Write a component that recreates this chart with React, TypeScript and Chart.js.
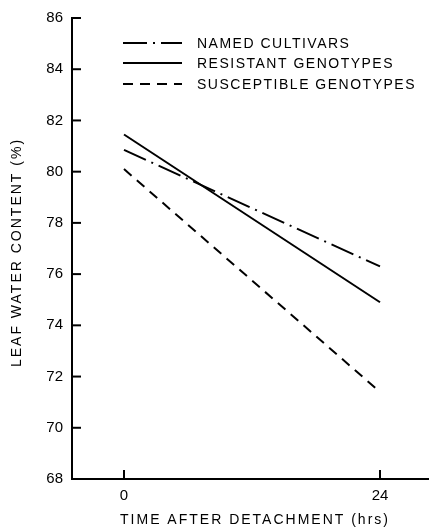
import { useEffect, useRef } from 'react';
import { Chart, registerables } from 'chart.js';

Chart.register(...registerables);

const hours = [0, 24];
const namedCultivars = [80.85, 76.3];
const resistantGenotypes = [81.45, 74.9];
const susceptibleGenotypes = [80.1, 71.4];
const seriesLabels = ['NAMED CULTIVARS', 'RESISTANT GENOTYPES', 'SUSCEPTIBLE GENOTYPES'];
const seriesDashes = [[24, 6, 2, 6], [], [10, 7]];
const xTickValues = [0, 24];
const yTickValues = [68, 70, 72, 74, 76, 78, 80, 82, 84, 86];
const xTitle = 'TIME AFTER DETACHMENT (hrs)';
const yTitle = 'LEAF WATER CONTENT (%)';

const LABEL_FONT = '14px "Liberation Sans", Arial, sans-serif';

const decorPlugin = {
  id: 'decor',
  afterDraw(chart: any) {
    const ctx = chart.ctx as CanvasRenderingContext2D;
    const area = chart.chartArea;
    const xs = chart.scales.x;
    const ys = chart.scales.y;
    ctx.save();
    ctx.strokeStyle = '#000';
    ctx.fillStyle = '#000';
    ctx.lineWidth = 2;
    ctx.setLineDash([]);
    // inward tick marks
    ys.ticks.forEach((t: any) => {
      const y = ys.getPixelForValue(t.value);
      ctx.beginPath();
      ctx.moveTo(area.left, y);
      ctx.lineTo(area.left + 9, y);
      ctx.stroke();
    });
    xs.ticks.forEach((t: any) => {
      const x = xs.getPixelForValue(t.value);
      ctx.beginPath();
      ctx.moveTo(x, area.bottom);
      ctx.lineTo(x, area.bottom - 9);
      ctx.stroke();
    });
    // titles
    (ctx as any).letterSpacing = '2px';
    ctx.font = LABEL_FONT;
    ctx.textAlign = 'center';
    ctx.textBaseline = 'middle';
    ctx.fillText(xTitle, (area.left + area.right) / 2 + 5, 520);
    ctx.save();
    ctx.translate(17, (area.top + area.bottom) / 2 + 4);
    ctx.rotate(-Math.PI / 2);
    ctx.fillText(yTitle, 0, 0);
    ctx.restore();
    // legend
    (ctx as any).letterSpacing = '1.5px';
    const rowsY = [43, 63, 84];
    chart.data.datasets.forEach((ds: any, i: number) => {
      const y = rowsY[i];
      ctx.beginPath();
      ctx.setLineDash(ds.borderDash || []);
      ctx.lineWidth = 2;
      ctx.moveTo(area.left + 51, y);
      ctx.lineTo(area.left + 110, y);
      ctx.stroke();
      ctx.setLineDash([]);
      ctx.textAlign = 'left';
      ctx.fillText(ds.label, area.left + 125, y + 1);
    });
    ctx.restore();
  },
};

export default function App() {
  const ref = useRef<HTMLCanvasElement>(null);
  useEffect(() => {
    document.body.style.margin = '0';
    const canvas = ref.current!;
    const mk = (vals: number[]) => hours.map((h, i) => ({ x: h, y: vals[i] }));
    const series = [namedCultivars, resistantGenotypes, susceptibleGenotypes];
    const chart = new Chart(canvas, {
      type: 'scatter',
      data: {
        datasets: series.map((vals, i) => ({
          label: seriesLabels[i],
          data: mk(vals),
          showLine: true,
          borderColor: '#000',
          backgroundColor: '#000',
          borderWidth: 2,
          borderDash: seriesDashes[i],
          pointRadius: 0,
          pointHoverRadius: 0,
        })),
      },
      options: {
        responsive: false,
        animation: false,
        devicePixelRatio: 1,
        layout: { padding: { top: 15, right: 1, left: 0, bottom: 0 } },
        plugins: { legend: { display: false }, tooltip: { enabled: false } },
        scales: {
          x: {
            type: 'linear',
            min: -4.875,
            max: 28.5,
            afterBuildTicks: (s: any) => {
              s.ticks = xTickValues.map((v) => ({ value: v }));
            },
            afterFit: (s: any) => {
              s.height = 48;
            },
            grid: { display: false, drawTicks: false },
            border: { display: true, color: '#000', width: 2 },
            ticks: {
              color: '#000',
              padding: 8,
              font: { size: 15, family: '"Liberation Sans", Arial, sans-serif' },
              maxRotation: 0,
            },
          },
          y: {
            type: 'linear',
            min: 68,
            max: 86,
            afterBuildTicks: (s: any) => {
              s.ticks = yTickValues.map((v) => ({ value: v }));
            },
            afterFit: (s: any) => {
              s.width = 72;
            },
            grid: { display: false, drawTicks: false },
            border: { display: true, color: '#000', width: 2 },
            ticks: {
              color: '#000',
              padding: 9,
              font: { size: 15, family: '"Liberation Sans", Arial, sans-serif' },
            },
          },
        },
      },
      plugins: [decorPlugin],
    });
    return () => chart.destroy();
  }, []);
  return <canvas ref={ref} width={429} height={527} style={{ display: 'block' }} />;
}
